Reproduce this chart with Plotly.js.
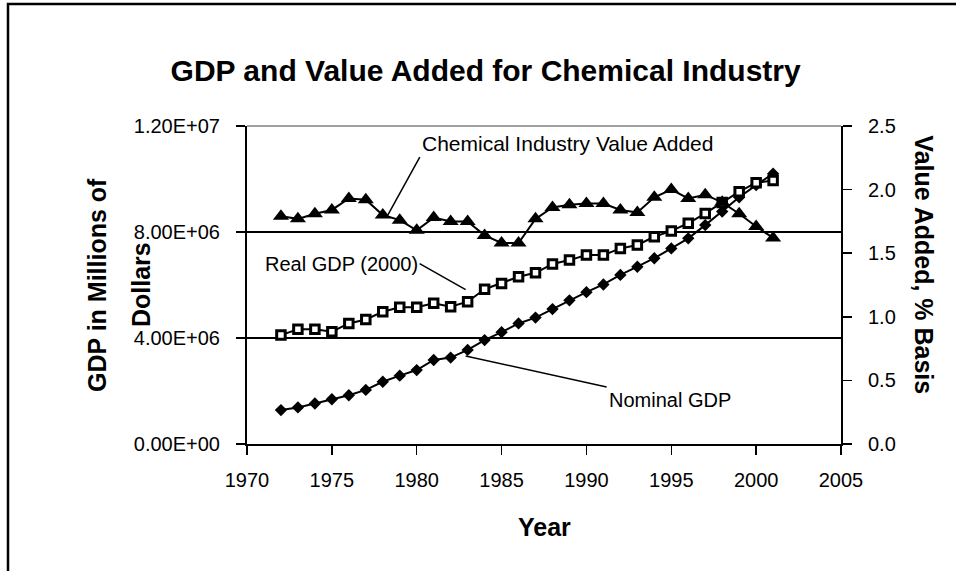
<!DOCTYPE html>
<html><head><meta charset="utf-8">
<script src="https://cdn.plot.ly/plotly-3.0.1.min.js"></script>
<style>html,body{margin:0;padding:0;background:#fff;overflow:hidden}#chart{width:956px;height:571px}</style>
</head><body><div id="chart"></div>
<script>
const years = [1972,1973,1974,1975,1976,1977,1978,1979,1980,1981,1982,1983,1984,1985,1986,1987,1988,1989,1990,1991,1992,1993,1994,1995,1996,1997,1998,1999,2000,2001];
const nominalGDP = [1.28e6,1.38e6,1.53e6,1.69e6,1.84e6,2.04e6,2.35e6,2.58e6,2.79e6,3.17e6,3.26e6,3.55e6,3.92e6,4.22e6,4.55e6,4.77e6,5.09e6,5.42e6,5.73e6,6.02e6,6.38e6,6.69e6,7.01e6,7.38e6,7.76e6,8.26e6,8.77e6,9.31e6,9.77e6,10.2e6];
const realGDP = [4.11e6,4.33e6,4.33e6,4.24e6,4.55e6,4.70e6,4.99e6,5.16e6,5.16e6,5.31e6,5.18e6,5.37e6,5.84e6,6.06e6,6.31e6,6.46e6,6.79e6,6.94e6,7.13e6,7.13e6,7.38e6,7.51e6,7.82e6,8.04e6,8.33e6,8.70e6,9.11e6,9.52e6,9.86e6,9.94e6];
const valueAdded = [1.79,1.77,1.81,1.84,1.93,1.92,1.80,1.76,1.68,1.78,1.75,1.75,1.64,1.58,1.58,1.77,1.86,1.88,1.89,1.89,1.84,1.82,1.94,2.00,1.93,1.96,1.90,1.81,1.71,1.62];
const leftTickVals = [0,4e6,8e6,1.2e7];
const leftTickText = ["0.00E+00","4.00E+06","8.00E+06","1.20E+07"];
const seriesNames = ["Nominal GDP","Real GDP (2000)","Chemical Industry Value Added"];
const chartTitle = "GDP and Value Added for Chemical Industry";
const xTitle = "Year";
const leftTitleLines = ["GDP in Millions of","Dollars"];
const rightTitle = "Value Added, % Basis";

const FONT = "'Liberation Sans', Arial, sans-serif";
const i1978 = years.indexOf(1978), i1983 = years.indexOf(1983);

const traces = [
  {x: years, y: nominalGDP, name: seriesNames[0], type: 'scatter', mode: 'lines+markers',
   line: {color: '#000', width: 2}, marker: {symbol: 'diamond', size: 9.5, color: '#000'}},
  {x: years, y: realGDP, name: seriesNames[1], type: 'scatter', mode: 'lines+markers',
   line: {color: '#000', width: 2}, marker: {symbol: 'square', size: 8.5, color: '#fff', line: {color: '#000', width: 3}}},
  {x: years, y: valueAdded, name: seriesNames[2], type: 'scatter', mode: 'lines+markers', yaxis: 'y2',
   line: {color: '#000', width: 2}, marker: {symbol: 'triangle-up', size: 14, color: '#000'}}
];

const annFont = {family: FONT, size: 20, color: '#000'};
const titleFont = {family: FONT, size: 25, color: '#000', weight: 'bold'};
const layout = {
  width: 956, height: 571,
  margin: {l: 247, r: 115, t: 126, b: 127, pad: 0},
  paper_bgcolor: '#fff', plot_bgcolor: '#fff',
  showlegend: false,
  font: {family: FONT, size: 20, color: '#000'},
  title: {text: chartTitle, font: {family: FONT, size: 30, color: '#000', weight: 'bold'},
          x: 0.508, xref: 'container', xanchor: 'center', y: 1 - 70/571, yref: 'container', yanchor: 'middle'},
  xaxis: {range: [1970, 2005], dtick: 5, tick0: 1970, ticks: 'outside', ticklen: 9, tickwidth: 1.5, tickcolor: '#000',
          showline: true, linecolor: '#000', linewidth: 2, showgrid: false, zeroline: false,
          tickfont: {family: FONT, size: 20, color: '#000'}, ticklabelstandoff: 8},
  yaxis: {range: [0, 1.2e7], tickvals: leftTickVals, ticktext: leftTickText, ticks: 'outside', ticklen: 9, tickwidth: 1.5, tickcolor: '#000',
          showline: true, linecolor: '#000', linewidth: 2, showgrid: true, gridcolor: '#000', gridwidth: 1.2, zeroline: false,
          tickfont: {family: FONT, size: 20, color: '#000'}, ticklabelstandoff: 12},
  yaxis2: {range: [0, 2.5], dtick: 0.5, tick0: 0, tickformat: '.1f', overlaying: 'y', side: 'right', ticks: 'outside', ticklen: 9, tickwidth: 1.5, tickcolor: '#000',
           showline: true, linecolor: '#000', linewidth: 2, showgrid: false, zeroline: false,
           tickfont: {family: FONT, size: 20, color: '#000'}, ticklabelstandoff: 12},
  shapes: [
    {type: 'line', xref: 'paper', yref: 'paper', x0: 0, x1: 1, y0: 1, y1: 1, line: {color: '#808080', width: 1.5}},
    {type: 'rect', xref: 'paper', yref: 'paper', x0: (8-247)/594, x1: (975-247)/594, y0: (444-585)/318, y1: (444-4)/318,
     line: {color: '#000', width: 2.5}, fillcolor: 'rgba(0,0,0,0)', layer: 'below'}
  ],
  annotations: [
    {x: years[i1978], y: valueAdded[i1978], xref: 'x', yref: 'y2', text: seriesNames[2], showarrow: true, arrowhead: 0, arrowwidth: 1.5, arrowcolor: '#000',
     ax: 32, ay: -58, xshift: 5, xanchor: 'left', yanchor: 'bottom', font: {family: FONT, size: 21, color: '#000'}},
    {x: years[i1983], y: realGDP[i1983], xref: 'x', yref: 'y', text: seriesNames[1], showarrow: true, arrowhead: 0, arrowwidth: 1.5, arrowcolor: '#000',
     ax: -46, ay: -26, xshift: -2, yshift: 12, xanchor: 'right', yanchor: 'middle', font: annFont},
    {x: years[i1983], y: nominalGDP[i1983], xref: 'x', yref: 'y', text: seriesNames[0], showarrow: true, arrowhead: 0, arrowwidth: 1.5, arrowcolor: '#000',
     ax: 141, ay: 31, xshift: -2, yshift: -6, xanchor: 'left', yanchor: 'top', font: annFont},
    {x: 0.5, y: 0, xref: 'paper', yref: 'paper', yshift: -83, text: xTitle, showarrow: false,
     xanchor: 'center', yanchor: 'middle', font: titleFont},
    {x: 0, y: 0.5, xref: 'paper', yref: 'paper', xshift: -150, text: leftTitleLines[0], showarrow: false, textangle: -90,
     xanchor: 'center', yanchor: 'middle', font: titleFont},
    {x: 0, y: 0.5, xref: 'paper', yref: 'paper', xshift: -106, text: leftTitleLines[1], showarrow: false, textangle: -90,
     xanchor: 'center', yanchor: 'middle', font: titleFont},
    {x: 1, y: 0.565, xref: 'paper', yref: 'paper', xshift: 83, text: rightTitle, showarrow: false, textangle: 90,
     xanchor: 'center', yanchor: 'middle', font: titleFont}
  ]
};
Plotly.newPlot('chart', traces, layout, {staticPlot: true, displayModeBar: false});
</script>
</body></html>
